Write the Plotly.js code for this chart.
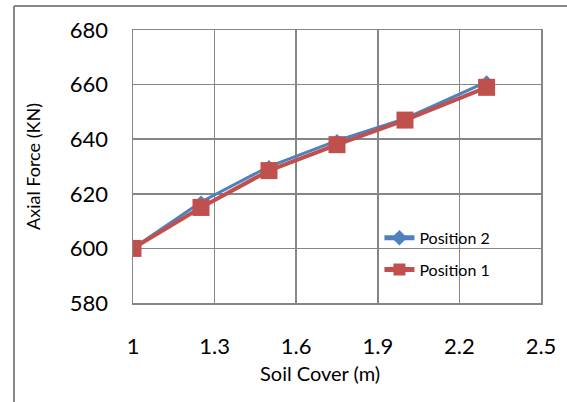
<!DOCTYPE html>
<html>
<head>
<meta charset="utf-8">
<script src="https://cdn.plot.ly/plotly-3.0.1.min.js"></script>
<style>
html,body{margin:0;padding:0;background:#fff;}
#chart{width:567px;height:402px;}
</style>
</head>
<body>
<div id="chart"></div>
<script>
const soilCover = [1, 1.25, 1.5, 1.75, 2, 2.3];
const position2 = [600, 617, 630, 639.5, 647.5, 661];
const position1 = [600, 615, 628.5, 638, 647, 659];
const xTicks = [1, 1.3, 1.6, 1.9, 2.2, 2.5];
const yTicks = [580, 600, 620, 640, 660, 680];

const FONT = 'Lato, "Open Sans", sans-serif';
const GRID = '#868686';

const traces = [
  {
    x: soilCover, y: position2, name: 'Position 2', type: 'scatter', mode: 'lines+markers',
    legendgroup: 'g2',
    line: {color: '#4F81BD', width: 3},
    marker: {symbol: 'diamond', size: 10, color: '#4F81BD'}
  },
  {
    x: soilCover, y: position1, name: 'Position 1', type: 'scatter', mode: 'lines+markers',
    legendgroup: 'g1',
    line: {color: '#C0504D', width: 4},
    marker: {symbol: 'square', size: 17, color: '#C0504D'}
  }
];

const layout = {
  width: 567, height: 402,
  margin: {l: 133, r: 26, t: 30, b: 99},
  paper_bgcolor: '#fff', plot_bgcolor: '#fff',
  font: {family: FONT, color: '#000'},
  showlegend: true,
  legend: {
    x: 0.604, y: 0.301, xanchor: 'left', yanchor: 'top',
    bgcolor: 'rgba(255,255,255,0)', font: {size: 16, family: FONT},
    traceorder: 'grouped', tracegroupgap: 8, itemsizing: 'constant'
  },
  xaxis: {
    range: [1, 2.5], tickvals: xTicks, ticktext: xTicks.map(String),
    showgrid: true, gridcolor: GRID, gridwidth: 1.5,
    showline: true, linecolor: GRID, linewidth: 1.5, mirror: true,
    zeroline: false, ticks: '', ticklabelstandoff: 23,
    tickfont: {size: 22, family: FONT}
  },
  yaxis: {
    range: [580, 680], tickvals: yTicks,
    showgrid: true, gridcolor: GRID, gridwidth: 1.5,
    showline: true, linecolor: GRID, linewidth: 1.5, mirror: true,
    zeroline: false, ticks: '', ticklabelstandoff: 19,
    tickfont: {size: 22, family: FONT},
    title: {text: 'Axial Force (KN)', font: {size: 18, family: FONT}, standoff: 24}
  },
  annotations: [
    {text: 'Soil Cover (m)', xref: 'paper', yref: 'paper', x: 0.458, y: -0.255,
     xanchor: 'center', yanchor: 'middle', showarrow: false, font: {size: 20, family: FONT}}
  ],
  shapes: [
    {type: 'line', xref: 'paper', yref: 'paper', x0: -0.2917, x1: 1.2, y0: 1.0879, y1: 1.0879,
     line: {color: '#888', width: 2}},
    {type: 'line', xref: 'paper', yref: 'paper', x0: -0.2917, x1: -0.2917, y0: 1.0879, y1: -0.5,
     line: {color: '#888', width: 2}}
  ]
};

Plotly.newPlot('chart', traces, layout, {displayModeBar: false, staticPlot: true});
</script>
</body>
</html>
